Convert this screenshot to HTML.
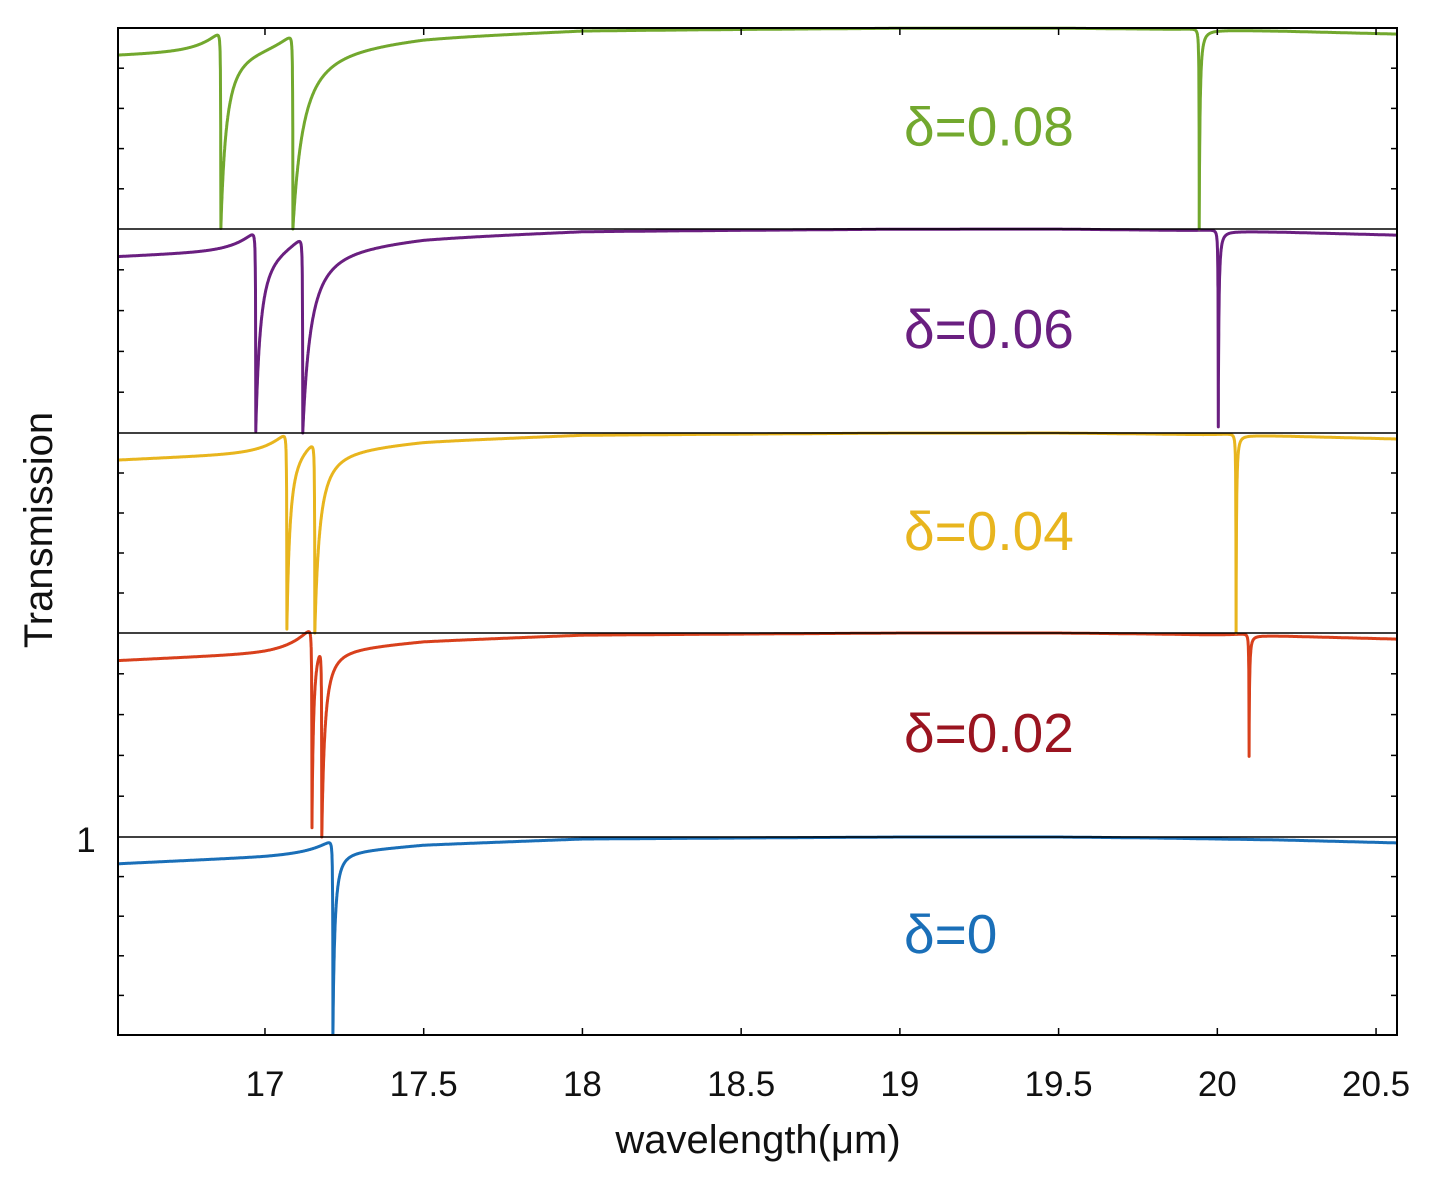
<!DOCTYPE html>
<html><head><meta charset="utf-8"><style>
body{margin:0;background:#fff;}
svg{display:block;font-family:"Liberation Sans",sans-serif;}
</style></head><body>
<svg id="chart" width="1439" height="1187">
<defs><clipPath id="clip"><rect x="118" y="24" width="1280" height="1012"/></clipPath></defs>
<g id="curves" clip-path="url(#clip)"></g>
<g id="axes"></g>
</svg>
<script>
const xTicks = [17, 17.5, 18, 18.5, 19, 19.5, 20, 20.5];
const xTickLabels = ["17","17.5","18","18.5","19","19.5","20","20.5"];
const seriesNames = ["δ=0","δ=0.02","δ=0.04","δ=0.06","δ=0.08"];
const seriesColors = ["#1a6fb8","#d8401c","#e8b51e","#6a1f80","#72a82e"];
const labelColors = ["#1a6fb8","#9a1420","#e8b51e","#6a1f80","#72a82e"];
const baseWl = [16.54, 17.0, 17.2, 17.5, 18.0, 18.5, 19.0, 19.5, 19.8, 20.2, 20.57];
const baseVal = [0.865, 0.9, 0.92, 0.96, 0.99, 0.995, 1.0, 1.0, 0.995, 0.985, 0.97];
const dipPos = [[17.214],[17.148,17.179,20.10],[17.069,17.157,20.059],[16.971,17.119,20.003],[16.861,17.088,19.943]];
const dipDepth = [[1.0],[1.0,1.0,0.6],[1.0,1.0,1.0],[1.0,1.0,0.97],[1.0,1.0,1.0]];
const dipTail = [[0.012],[0.01,0.018,0.003],[0.02,0.03,0.003],[0.03,0.05,0.004],[0.035,0.065,0.005]];

const X0=118,X1=1397,W0=16.537,W1=20.566;
const panelTop=[837,633,433,229,28], panelBot=[1035,837,633,433,229];
const xs=w=>X0+(w-W0)/(W1-W0)*(X1-X0);
const NS="http://www.w3.org/2000/svg";
function mk(tag,attrs,parent){const e=document.createElementNS(NS,tag);for(const k in attrs)e.setAttribute(k,attrs[k]);parent.appendChild(e);return e;}
function base(w){for(let i=0;i<baseWl.length-1;i++){if(w<=baseWl[i+1]){const t=(w-baseWl[i])/(baseWl[i+1]-baseWl[i]);return baseVal[i]+t*(baseVal[i+1]-baseVal[i]);}}return baseVal[baseVal.length-1];}
function T(s,w){let b=base(w);let v=b;
 dipPos[s].forEach((p,j)=>{const dx=w-p;
  if(dx<0){v+= (1-b)*Math.exp(dx/0.06)*0.9; const gl=0.0012; const f=1/Math.pow(1-dx/gl,2); v-= dipDepth[s][j]*f*v;}
  else{const g=dipTail[s][j]; const f=1/Math.pow(1+dx/g,2); v-= dipDepth[s][j]*f*v;}
 });
 return v;}
const cg=document.getElementById('curves');
seriesNames.forEach((nm,s)=>{
 const ys=v=>panelBot[s]-v*(panelBot[s]-panelTop[s]);
 let pts=[];const ws=[];
 for(let i=0;i<=3000;i++)ws.push(W0+(W1-W0)*i/3000);
 dipPos[s].forEach(p=>{for(let k=-20;k<=60;k++)ws.push(p+k*0.0005);ws.push(p);});
 ws.sort((a,b)=>a-b);
 ws.forEach(w=>pts.push(xs(w).toFixed(1)+","+ys(Math.max(0,T(s,w))).toFixed(1)));
 const pl=mk('polyline',{points:pts.join(" "),fill:"none",stroke:seriesColors[s],"stroke-width":3,"stroke-linejoin":"round"},cg);
 
 
 const t=mk('text',{x:904,y:(panelTop[s]+panelBot[s])/2+17,"text-anchor":"start","font-size":55,fill:labelColors[s]},document.getElementById('axes'));
 t.textContent=nm;
 
 
});
const ax=document.getElementById('axes');
mk('rect',{x:118,y:28,width:1279,height:1007,fill:"none",stroke:"#000","stroke-width":2},ax);
[229,433,633,837].forEach(y=>mk('line',{x1:118,x2:1397,y1:y,y2:y,stroke:"#000","stroke-width":1.5},ax));
panelTop.forEach((t,s)=>{for(let k=1;k<5;k++){const y=panelBot[s]-k*(panelBot[s]-t)/5;
 mk('line',{x1:118,x2:124,y1:y,y2:y,stroke:"#000","stroke-width":1.5},ax);
 mk('line',{x1:1391,x2:1397,y1:y,y2:y,stroke:"#000","stroke-width":1.5},ax);}});
xTicks.forEach((v,i)=>{const x=xs(v);
 mk('line',{x1:x,x2:x,y1:1035,y2:1028,stroke:"#000","stroke-width":1.5},ax);
 mk('line',{x1:x,x2:x,y1:28,y2:35,stroke:"#000","stroke-width":1.5},ax);
 const t=mk('text',{x:x,y:1096,"text-anchor":"middle","font-size":35,fill:"#111"},ax);t.textContent=xTickLabels[i];
 
 });
</script>
<svg style="position:absolute;left:0;top:0" width="1439" height="1187">
<text x="86" y="852" font-size="35" fill="#111" text-anchor="middle" font-family="Liberation Sans, sans-serif">1</text>
<text x="758" y="1153" font-size="40" fill="#111" text-anchor="middle" font-family="Liberation Sans, sans-serif">wavelength(μm)</text>
<text transform="translate(52,530) rotate(-90)" font-size="40" fill="#111" text-anchor="middle" font-family="Liberation Sans, sans-serif">Transmission</text>
</svg>
</body></html>
